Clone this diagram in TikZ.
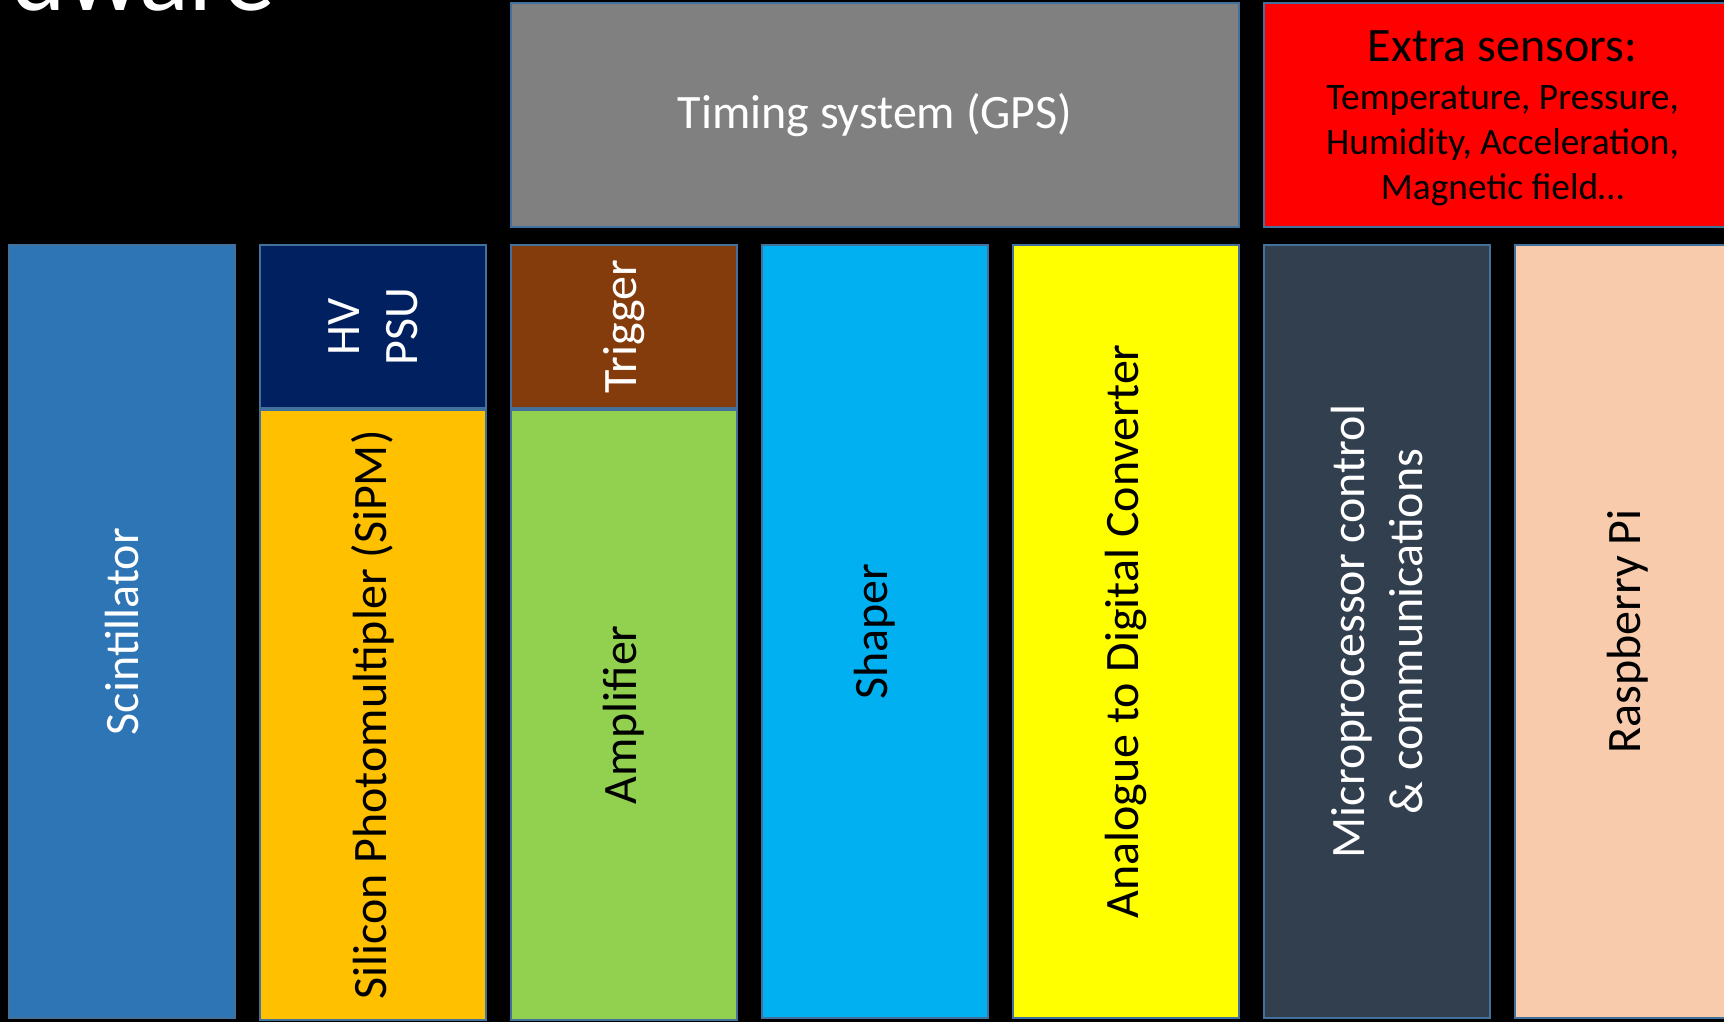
\documentclass[tikz,border=0pt]{standalone}
\usepackage{fontspec}
\setmainfont{Carlito}
\usetikzlibrary{positioning}
\definecolor{scintblue}{HTML}{2E75B6}
\definecolor{psublue}{HTML}{002060}
\definecolor{sipmorange}{HTML}{FFC000}
\definecolor{trigbrown}{HTML}{843C0C}
\definecolor{ampgreen}{HTML}{92D050}
\definecolor{shapercyan}{HTML}{00B0F0}
\definecolor{adcyellow}{HTML}{FFFF00}
\definecolor{mcuslate}{HTML}{323F4F}
\definecolor{rpipeach}{HTML}{F8CBAD}
\definecolor{gpsgray}{HTML}{808080}
\definecolor{edgeblue}{HTML}{41719C}

\begin{document}
\begin{tikzpicture}[x=0.5pt, y=-0.5pt,
  block/.style={shape=rectangle, draw=edgeblue, line width=1pt, anchor=north west, minimum width=113pt, inner sep=0pt},
  vtext/.style={rotate=90, align=center, inner sep=0pt, font=\fontsize{24}{28.8}\selectfont}]
\useasboundingbox (0,0) rectangle (1724,1022);
\clip (0,0) rectangle (1724,1022);
\fill[black] (0,0) rectangle (1724,1022);
\node[anchor=base east, inner sep=0pt, text=white, font=\fontsize{52}{62}\selectfont] (title) at (276,11) {Hardware};
% top row
\node[block, fill=gpsgray, minimum width=364pt, minimum height=112pt, label={[text=white, font=\fontsize{24}{28.8}\selectfont]center:Timing system (GPS)}](gps) at (510,2) {};
\node[block, fill=red, minimum width=238.5pt, minimum height=112pt, label={[align=center, yshift=-1.5pt, font=\fontsize{18.7}{22.3}\selectfont]center:{\fontsize{24}{28.8}\selectfont Extra sensors:}\\[2pt]Temperature, Pressure,\\Humidity, Acceleration,\\Magnetic field…}](sensors) at (1263,2) {};
% bottom row
\node[block, fill=scintblue, minimum height=386.5pt, label={[vtext, text=white]center:Scintillator}](scint) at (8,244) {};
\node[block, fill=psublue, minimum height=81.5pt, label={[vtext, text=white]center:HV\\PSU}](psu) at (259,244) {};
\node[block, fill=sipmorange, minimum height=305pt, below=0pt of psu, label={[vtext]center:Silicon Photomultipler (SiPM)}](sipm) {};
\node[block, fill=trigbrown, minimum height=81.5pt, label={[vtext, text=white]center:Trigger}](trig) at (510,244) {};
\node[block, fill=ampgreen, minimum height=305pt, below=0pt of trig, label={[vtext]center:Amplifier}](amp) {};
\node[block, fill=shapercyan, minimum height=386.5pt, label={[vtext]center:Shaper}](shaper) at (761,244) {};
\node[block, fill=adcyellow, minimum height=386.5pt, label={[vtext]center:Analogue to Digital Converter}](adc) at (1012,244) {};
\node[block, fill=mcuslate, minimum height=386.5pt, label={[vtext, text=white]center:Microprocessor control\\\& communications}](mcu) at (1263,244) {};
\node[block, fill=rpipeach, minimum height=386.5pt, label={[vtext]center:Raspberry Pi}](rpi) at (1514,244) {};
\end{tikzpicture}
\end{document}
